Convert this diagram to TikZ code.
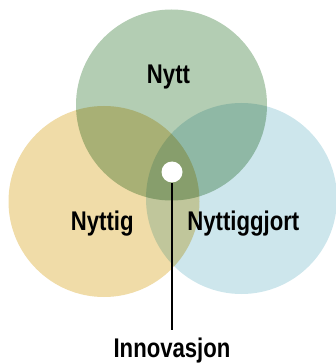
\documentclass[tikz,border=0pt]{standalone}
\usepackage{fontspec}
\setmainfont{Liberation Sans}[FakeStretch=0.82]
\definecolor{nyttgreen}{RGB}{179,205,179}
\definecolor{nyttigyellow}{RGB}{240,220,168}
\definecolor{gjortblue}{RGB}{205,230,236}
\tikzset{
  vennlabel/.style={font=\fontsize{27}{30}\selectfont\bfseries, inner sep=0pt, anchor=base},
  dot/.style={circle, fill=white, minimum size=21pt, inner sep=0pt},
}
\begin{document}
\begin{tikzpicture}[x=1pt, y=-1pt]
% Set the canvas size
\useasboundingbox (0,0) rectangle (336,363);
\def\radius{95.5pt}

% Draw the three circles
\begin{scope}[blend group=multiply]
\fill[nyttgreen] (171.5,105) circle (\radius);
\fill[nyttigyellow] (104,201.5) circle (\radius);
\fill[gjortblue] (241.5,198.5) circle (\radius);
\end{scope}

% Insert the labels
\node[vennlabel] (nytt) at (168.5,83.3) {Nytt};
\node[vennlabel] (nyttig) at (102.2,230) {Nyttig};
\node[vennlabel] (nyttiggjort) at (243.3,230) {Nyttiggjort};

% Innovation point and its pointer
\node[dot] (innovdot) at (172,172) {};
\node[vennlabel] (innov) at (172,357.5) {Innovasjon};
\draw[line width=2pt] (innovdot.south) -- (innov.north |- 0,329.5);
\end{tikzpicture}
\end{document}
